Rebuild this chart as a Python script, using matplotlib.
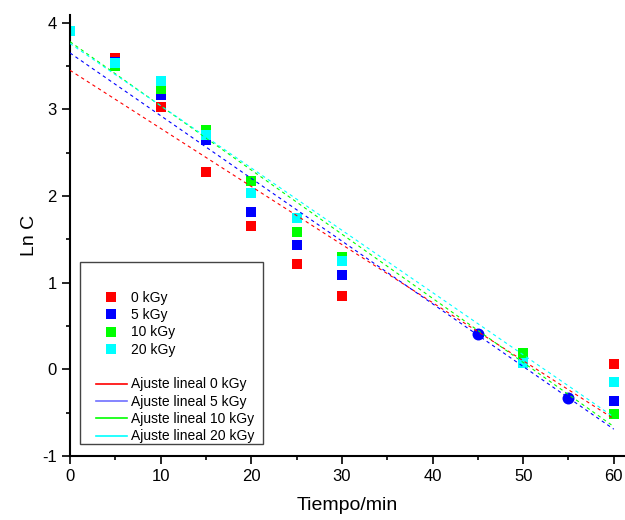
import matplotlib
matplotlib.use("Agg")
import numpy as np
import matplotlib.pyplot as plt
from matplotlib.lines import Line2D
from matplotlib.legend_handler import HandlerLine2D

# tiempo (min) y Ln C por dosis
t = [0, 5, 10, 15, 20, 25, 30, 50, 60]
ln_0 = [3.90, 3.59, 3.03, 2.28, 1.65, 1.22, 0.85, 0.14, 0.06]
ln_5 = [3.90, 3.54, 3.17, 2.65, 1.82, 1.43, 1.09, 0.13, -0.37]
ln_10 = [3.90, 3.50, 3.23, 2.76, 2.17, 1.59, 1.30, 0.19, -0.51]
ln_20 = [3.90, 3.53, 3.33, 2.70, 2.04, 1.75, 1.25, 0.07, -0.15]
# puntos circulares extra (azul)
t_circ = [45, 55]
ln_circ = [0.41, -0.33]

labels = ["0 kGy", "5 kGy", "10 kGy", "20 kGy"]
colors = ["#ff0000", "#0000ff", "#00ff00", "#00ffff"]
line_colors = ["#ff0000", "#7070ff", "#00ff00", "#00ffff"]

# ajustes lineales: valor en t=0 y en t=60
fit_t = [0, 60]
fit_start = [3.45, 3.65, 3.78, 3.76]
fit_end = [-0.57, -0.69, -0.66, -0.55]

plt.rcParams['font.family'] = ['Liberation Sans', 'DejaVu Sans']
plt.rcParams['axes.unicode_minus'] = False

fig = plt.figure(figsize=(6.25, 5.2), dpi=100)
ax = fig.add_axes([0.112, 0.123, 0.886, 0.848])

series = [ln_0, ln_5, ln_10, ln_20]
for y, c in zip(series, colors):
    ax.plot(t, y, linestyle='none', marker='s', ms=7.2, color=c, mew=0, zorder=2)
ax.plot(t_circ, ln_circ, linestyle='none', marker='o', ms=8.6, color='#0000ff', mew=0, zorder=2)

for c, y0, y1 in zip(colors, fit_start, fit_end):
    ax.plot(fit_t, [y0, y1], color=c, lw=0.8, dashes=(3, 3), zorder=3)

ax.set_xlim(0, 61.1)
ax.set_ylim(-1, 4.087)
ax.set_xticks([0, 10, 20, 30, 40, 50, 60])
ax.set_xticks(np.arange(5, 61, 10), minor=True)
ax.set_yticks([-1, 0, 1, 2, 3, 4])
ax.set_yticks(np.arange(-0.5, 4.0, 1.0), minor=True)
ax.spines['top'].set_visible(False)
ax.spines['right'].set_visible(False)
ax.spines['left'].set_linewidth(1.5)
ax.spines['bottom'].set_linewidth(1.5)
ax.tick_params(which='major', direction='out', length=6, width=1.2, labelsize=12)
ax.tick_params(which='minor', direction='out', length=3.2, width=1.2)
ax.set_xlabel("Tiempo/min", fontsize=14, labelpad=9)
ax.set_ylabel("Ln C", fontsize=14, labelpad=3)

blank = Line2D([], [], linestyle='none', marker='none')
handles = [blank]
names = [""]
for c, lab in zip(colors, labels):
    handles.append(Line2D([], [], linestyle='none', marker='s', ms=7, color=c, mew=0))
    names.append(lab)
handles.append(blank)
names.append("")
for c, lab in zip(line_colors, labels):
    handles.append(Line2D([], [], color=c, lw=1.2))
    names.append("Ajuste lineal " + lab + "  ")

leg = ax.legend(handles, names, loc='lower left', bbox_to_anchor=(0.018, 0.027),
                fontsize=10, frameon=True, fancybox=False, framealpha=1,
                edgecolor='#444444', handlelength=3.33, handletextpad=0.29,
                labelspacing=0.24, borderpad=0.05, borderaxespad=0,
                title=" ", title_fontsize=5,
                handler_map={Line2D: HandlerLine2D(xpad=1.1)})
leg.get_frame().set_linewidth(1.0)

fig.savefig("out.png", dpi=100)
